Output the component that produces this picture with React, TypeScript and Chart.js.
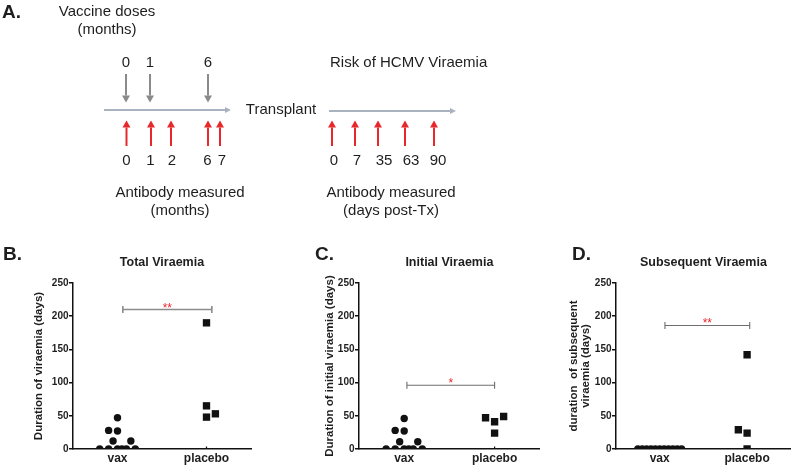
import React, { useEffect, useRef } from 'react';
import { Chart, registerables } from 'chart.js';
Chart.register(...registerables);

const FONT = "'Liberation Sans', Arial, Helvetica, sans-serif";
Chart.defaults.font.family = FONT;

// ---------- Panel A: study schedule ----------
const vaccineDoseMonths = ['0', '1', '6'];
const antibodyMonths = ['0', '1', '2', '6', '7'];
const antibodyDays = ['0', '7', '35', '63', '90'];
// schematic positions along the diagram (diagram units)
const vaccineDosePos = [126, 150, 208];
const antibodyMonthPos = [126.5, 151, 171, 208, 220];
const antibodyMonthLabelPos = [126.5, 150.5, 172, 207.5, 222];
const antibodyDayPos = [332, 355, 378, 405, 434];
const antibodyDayLabelPos = [334, 357, 384, 411, 438];

// ---------- Panels B-D ----------
const groups = ['vax', 'placebo'];
const yTickValues = [0, 50, 100, 150, 200, 250];

const totalVax = [47, 28, 27, 12, 12, 0, 0, 0, 0, 0, 0];
const totalVaxJitter = [0, -0.1, 0, -0.05, 0.15, -0.2, -0.1, 0, 0.05, 0.1, 0.2];
const totalPlacebo = [190, 65, 48, 53];
const totalPlaceboJitter = [0, 0, 0, 0.1];
const totalSig = ['**', 210, 0.06, 1.06] as const;

const initialVax = [46, 28, 27, 11, 11, 0, 0, 0, 0, 0, 0];
const initialVaxJitter = [0, -0.1, 0, -0.05, 0.15, -0.2, -0.1, 0, 0.05, 0.1, 0.2];
const initialPlacebo = [47, 41, 49, 24];
const initialPlaceboJitter = [-0.1, 0, 0.1, 0];
const initialSig = ['*', 96, 0.03, 1.0] as const;

const subsequentVax = [0, 0, 0, 0, 0, 0, 0, 0, 0, 0, 0];
const subsequentVaxJitter = [-0.25, -0.2, -0.15, -0.1, -0.05, 0, 0.05, 0.1, 0.15, 0.2, 0.25];
const subsequentPlacebo = [142, 29, 24, 0];
const subsequentPlaceboJitter = [0, -0.1, 0, 0];
const subsequentSig = ['**', 186, 0.06, 1.03] as const;

const TEXT = '#1e1e1e';
const RED = '#e8282b';
const GREY = '#8a8a8a';
const LINE = '#a9b3c0';

function drawArrowV(ctx: CanvasRenderingContext2D, x: number, yTail: number, yTip: number, color: string) {
  const dir = Math.sign(yTip - yTail);
  const head = 7;
  const half = 4;
  ctx.save();
  ctx.strokeStyle = color;
  ctx.fillStyle = color;
  ctx.lineWidth = 2;
  ctx.beginPath();
  ctx.moveTo(x, yTail);
  ctx.lineTo(x, yTip - dir * head);
  ctx.stroke();
  ctx.beginPath();
  ctx.moveTo(x, yTip);
  ctx.lineTo(x - half, yTip - dir * head);
  ctx.lineTo(x + half, yTip - dir * head);
  ctx.closePath();
  ctx.fill();
  ctx.restore();
}

function drawArrowH(ctx: CanvasRenderingContext2D, x0: number, x1: number, y: number, color: string) {
  const head = 6;
  const half = 3;
  ctx.save();
  ctx.strokeStyle = color;
  ctx.fillStyle = color;
  ctx.lineWidth = 2;
  ctx.beginPath();
  ctx.moveTo(x0, y);
  ctx.lineTo(x1 - head, y);
  ctx.stroke();
  ctx.beginPath();
  ctx.moveTo(x1, y);
  ctx.lineTo(x1 - head, y - half);
  ctx.lineTo(x1 - head, y + half);
  ctx.closePath();
  ctx.fill();
  ctx.restore();
}

const schedulePlugin = {
  id: 'schedule',
  afterDraw(chart: any) {
    const { ctx } = chart;
    const sx = chart.scales.x;
    const sy = chart.scales.y;
    const X = (v: number) => sx.getPixelForValue(v);
    const Y = (v: number) => sy.getPixelForValue(v);
    ctx.save();
    ctx.textAlign = 'center';
    ctx.textBaseline = 'middle';
    ctx.fillStyle = TEXT;

    // panel letter
    ctx.font = `bold 19px ${FONT}`;
    ctx.textAlign = 'left';
    ctx.fillText('A.', X(2), Y(12.5));
    ctx.textAlign = 'center';

    ctx.font = `15px ${FONT}`;
    ctx.fillText('Vaccine doses', X(107), Y(12));
    ctx.fillText('(months)', X(107), Y(30));

    // vaccine dose arrows
    vaccineDoseMonths.forEach((lab, i) => {
      ctx.fillStyle = TEXT;
      ctx.fillText(lab, X(vaccineDosePos[i]), Y(63));
      drawArrowV(ctx, X(vaccineDosePos[i]), Y(74), Y(102.5), GREY);
    });

    // timelines
    drawArrowH(ctx, X(104), X(231), Y(110), LINE);
    drawArrowH(ctx, X(329), X(456), Y(111), LINE);
    ctx.fillStyle = TEXT;
    ctx.fillText('Transplant', X(281), Y(110));
    ctx.textAlign = 'left';
    ctx.fillText('Risk of HCMV Viraemia', X(330), Y(63));
    ctx.textAlign = 'center';

    // antibody measurement arrows
    antibodyMonths.forEach((lab, i) => {
      drawArrowV(ctx, X(antibodyMonthPos[i]), Y(146), Y(120.5), RED);
      ctx.fillStyle = TEXT;
      ctx.fillText(lab, X(antibodyMonthLabelPos[i]), Y(161));
    });
    antibodyDays.forEach((lab, i) => {
      drawArrowV(ctx, X(antibodyDayPos[i]), Y(146), Y(120.5), RED);
      ctx.fillStyle = TEXT;
      ctx.fillText(lab, X(antibodyDayLabelPos[i]), Y(161));
    });

    ctx.fillStyle = TEXT;
    ctx.fillText('Antibody measured', X(180), Y(193));
    ctx.fillText('(months)', X(180), Y(211));
    ctx.fillText('Antibody measured', X(391), Y(193));
    ctx.fillText('(days post-Tx)', X(391), Y(211));
    ctx.restore();
  },
};

function scheduleConfig(): any {
  return {
    type: 'scatter',
    data: { datasets: [] },
    options: {
      animation: false,
      responsive: false,
      layout: { padding: 0 },
      plugins: { legend: { display: false }, tooltip: { enabled: false } },
      scales: {
        x: { type: 'linear', min: 0, max: 796, display: false },
        y: { type: 'linear', min: 0, max: 235, reverse: true, display: false },
      },
    },
    plugins: [schedulePlugin],
  };
}

type PanelOpts = {
  letter: string;
  letterX: number;
  title: string;
  yTitle: string | string[];
  yTitleLine: string | number;
  yTitlePad: number;
  yAxisWidth: number;
  padRight: number;
  vax: number[];
  vaxJ: number[];
  pla: number[];
  plaJ: number[];
  sig: readonly [string, number, number, number];
  sigColor: string;
  sigWidth: number;
};

function panelConfig(o: PanelOpts): any {
  const overlay = {
    id: 'overlay' + o.letter,
    afterDatasetsDraw(chart: any) {
      const { ctx } = chart;
      const xs = chart.scales.x;
      const ys = chart.scales.y;
      const [label, yv, from, to] = o.sig;
      const x1 = xs.getPixelForValue(from);
      const x2 = xs.getPixelForValue(to);
      const y = ys.getPixelForValue(yv);
      ctx.save();
      ctx.strokeStyle = o.sigColor;
      ctx.lineWidth = o.sigWidth;
      ctx.beginPath();
      ctx.moveTo(x1, y);
      ctx.lineTo(x2, y);
      ctx.moveTo(x1, y - 3.5);
      ctx.lineTo(x1, y + 3.5);
      ctx.moveTo(x2, y - 3.5);
      ctx.lineTo(x2, y + 3.5);
      ctx.stroke();
      ctx.fillStyle = RED;
      ctx.font = `12px ${FONT}`;
      ctx.textAlign = 'center';
      ctx.textBaseline = 'alphabetic';
      ctx.fillText(label, (x1 + x2) / 2, y + 2);
      // small group tick marks on the x axis
      ctx.strokeStyle = '#111';
      ctx.lineWidth = 1.2;
      const yb = chart.chartArea.bottom;
      [0, 1].forEach((g) => {
        const gx = xs.getPixelForValue(g);
        ctx.beginPath();
        ctx.moveTo(gx, yb);
        ctx.lineTo(gx, yb - 2.5);
        ctx.stroke();
      });
      // panel letter
      ctx.fillStyle = TEXT;
      ctx.font = `bold 19px ${FONT}`;
      ctx.textAlign = 'left';
      ctx.fillText(o.letter, o.letterX, 20);
      ctx.restore();
    },
  };
  return {
    type: 'scatter',
    data: {
      datasets: [
        {
          label: groups[0],
          data: o.vax.map((v, i) => ({ x: 0 + o.vaxJ[i], y: v })),
          pointStyle: 'circle',
          pointRadius: 3.7,
          backgroundColor: '#111',
          borderColor: '#111',
          borderWidth: 0,
        },
        {
          label: groups[1],
          data: o.pla.map((v, i) => ({ x: 1 + o.plaJ[i], y: v })),
          pointStyle: 'rect',
          pointRadius: 5.2,
          backgroundColor: '#111',
          borderColor: '#111',
          borderWidth: 0,
        },
      ],
    },
    options: {
      animation: false,
      responsive: false,
      layout: { padding: { top: 0, right: o.padRight, bottom: 0, left: 0 } },
      plugins: {
        legend: { display: false },
        tooltip: { enabled: false },
        title: {
          display: true,
          text: o.title,
          fullSize: false,
          color: TEXT,
          font: { size: 12.5, weight: 'bold', family: FONT },
          padding: { top: 15.5, bottom: 12.5 },
        },
      },
      scales: {
        x: {
          type: 'linear',
          min: -0.5,
          max: 1.5,
          afterBuildTicks: (s: any) => {
            s.ticks = [{ value: 0 }, { value: 1 }];
          },
          ticks: {
            callback: (v: number) => groups[v] ?? '',
            color: TEXT,
            font: { size: 12, weight: 'bold', family: FONT },
            padding: 2,
            autoSkip: false,
            maxRotation: 0,
          },
          grid: { display: false, drawTicks: false, tickLength: 0 },
          border: { display: true, color: '#111', width: 1.5 },
          afterFit: (s: any) => {
            s.height = 18;
          },
        },
        y: {
          type: 'linear',
          min: 0,
          max: 250,
          afterBuildTicks: (s: any) => {
            s.ticks = yTickValues.map((v) => ({ value: v }));
          },
          ticks: {
            color: TEXT,
            font: { size: 10, weight: 'bold', family: FONT },
            padding: 0.5,
          },
          grid: { drawOnChartArea: false, drawTicks: true, tickLength: 4, color: '#111', lineWidth: 1.5 },
          border: { display: true, color: '#111', width: 1.5 },
          title: {
            display: true,
            text: o.yTitle,
            color: TEXT,
            font: { size: 11.5, weight: 'bold', family: FONT, lineHeight: o.yTitleLine },
            padding: { top: o.yTitlePad, bottom: 0 },
          },
          afterFit: (s: any) => {
            s.width = o.yAxisWidth;
          },
        },
      },
    },
    plugins: [overlay],
  };
}

const canvasStyle = (left: number, top: number, w: number, h: number): React.CSSProperties => ({
  position: 'absolute',
  left,
  top,
  width: w,
  height: h,
});

export default function App() {
  const aRef = useRef<HTMLCanvasElement>(null);
  const bRef = useRef<HTMLCanvasElement>(null);
  const cRef = useRef<HTMLCanvasElement>(null);
  const dRef = useRef<HTMLCanvasElement>(null);

  useEffect(() => {
    const charts: Chart[] = [];
    charts.push(new Chart(aRef.current!, scheduleConfig()));
    charts.push(
      new Chart(
        bRef.current!,
        panelConfig({
          letter: 'B.',
          letterX: 3,
          title: 'Total Viraemia',
          yTitle: 'Duration of viraemia (days)',
          yTitleLine: 1.2,
          yTitlePad: 32,
          yAxisWidth: 73,
          padRight: 9,
          vax: totalVax,
          vaxJ: totalVaxJitter,
          pla: totalPlacebo,
          plaJ: totalPlaceboJitter,
          sig: totalSig,
          sigColor: '#8c8c8c',
          sigWidth: 1.6,
        })
      )
    );
    charts.push(
      new Chart(
        cRef.current!,
        panelConfig({
          letter: 'C.',
          letterX: 35,
          title: 'Initial Viraemia',
          yTitle: 'Duration of initial viraemia (days)',
          yTitleLine: 1.2,
          yTitlePad: 43,
          yAxisWidth: 79,
          padRight: 5,
          vax: initialVax,
          vaxJ: initialVaxJitter,
          pla: initialPlacebo,
          plaJ: initialPlaceboJitter,
          sig: initialSig,
          sigColor: '#6e6e6e',
          sigWidth: 1.1,
        })
      )
    );
    charts.push(
      new Chart(
        dRef.current!,
        panelConfig({
          letter: 'D.',
          letterX: 32,
          title: 'Subsequent Viraemia',
          yTitle: ['duration  of subsequent', 'viraemia (days)'],
          yTitleLine: '12px',
          yTitlePad: 28.3,
          yAxisWidth: 76,
          padRight: 1,
          vax: subsequentVax,
          vaxJ: subsequentVaxJitter,
          pla: subsequentPlacebo,
          plaJ: subsequentPlaceboJitter,
          sig: subsequentSig,
          sigColor: '#6e6e6e',
          sigWidth: 1.1,
        })
      )
    );
    return () => charts.forEach((c) => c.destroy());
  }, []);

  return (
    <div style={{ position: 'absolute', left: 0, top: 0, width: 796, height: 467, background: '#fff', overflow: 'hidden' }}>
      <canvas ref={aRef} width={796} height={235} style={canvasStyle(0, 0, 796, 235)} />
      <canvas ref={bRef} width={260} height={227} style={canvasStyle(0, 240, 260, 227)} />
      <canvas ref={cRef} width={265} height={227} style={canvasStyle(280, 240, 265, 227)} />
      <canvas ref={dRef} width={256} height={227} style={canvasStyle(540, 240, 256, 227)} />
    </div>
  );
}
